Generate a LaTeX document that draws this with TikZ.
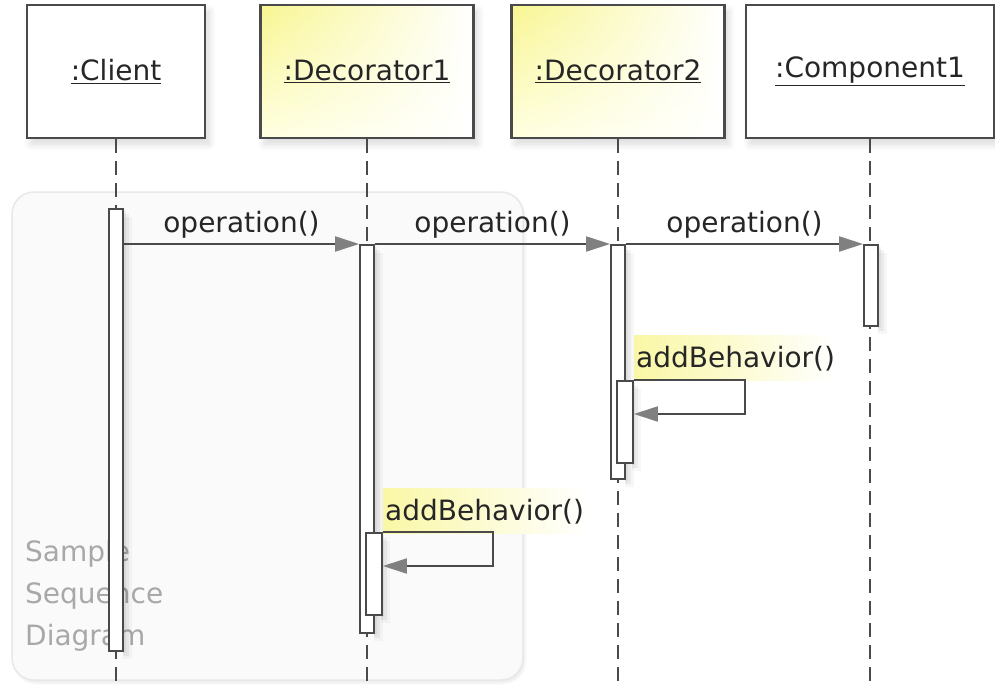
\documentclass[tikz,border=0pt]{standalone}
\usepackage{fontspec}
\setmainfont{DejaVu Sans}
\usetikzlibrary{arrows.meta,shadings,shadows.blur}
\definecolor{ink}{HTML}{4A4A4A}
\definecolor{tipgray}{HTML}{808080}
\definecolor{framegray}{HTML}{E8E8E8}
\definecolor{notegray}{HTML}{A8A8A8}
\definecolor{hlyellow}{HTML}{F7F47E}
\begin{document}
\begin{tikzpicture}[x=1pt,y=-1pt,
  font=\fontsize{28}{42}\selectfont,
  boxshadow/.style={blur shadow={shadow xshift=4pt,shadow yshift=-6pt,shadow opacity=15,shadow blur steps=8,shadow blur radius=7pt}},
  lifebox/.style={draw=ink,line width=2.2pt,minimum height=133pt,inner sep=0pt,text=black!85,boxshadow},
  plainbox/.style={lifebox,fill=white},
  decobox/.style={lifebox,upper left=hlyellow!85,upper right=white,lower left=yellow!12!white,lower right=white},
  lifeline/.style={draw=ink,line width=2pt,dash pattern=on 14pt off 8pt},
  actbar/.style={draw=ink,line width=1.8pt,fill=white,inner sep=0pt,minimum width=14pt,anchor=north},
  msg/.style={draw=ink,line width=2pt,-{Triangle[length=24pt,width=15pt,color=tipgray,fill=tipgray]}},
  msglabel/.style={midway,anchor=base,yshift=12pt,inner sep=0pt,text=black!85},
  hilite/.style={anchor=base west,inner xsep=2pt,inner ysep=10pt,left color=hlyellow!70,right color=white,text=black!85},
]
\useasboundingbox (0,0) rectangle (995,685);

% diagram frame with its caption
\node[draw=framegray,line width=1.5pt,fill=black!2,rounded corners=22pt,
      minimum width=511pt,minimum height=488pt,inner sep=0pt,
      blur shadow={shadow xshift=2pt,shadow yshift=-3pt,shadow opacity=8,shadow blur steps=6}]
  (frame) at (267.5,436) {};
\node[anchor=base west,align=left,text=notegray,inner sep=0pt] (caption) at (25,645)
  {Sample\\Sequence\\Diagram};

% lifeline heads
\node[plainbox,minimum width=178pt] (client) at (116,71.5) {\underline{:Client}};
\node[decobox,minimum width=213pt] (deco1) at (367,71.5) {\underline{:Decorator1}};
\node[decobox,minimum width=213pt] (deco2) at (618,71.5) {\underline{:Decorator2}};
\node[plainbox,minimum width=248pt] (comp1) at (870,71.5) {\underline{:Component1}};

% dashed lifelines
\coordinate (client-end) at (116,685);
\coordinate (deco1-end) at (367,685);
\coordinate (deco2-end) at (618,685);
\coordinate (comp1-end) at (870,685);
\draw[lifeline] (client.south) -- (client-end);
\draw[lifeline] (deco1.south) -- (deco1-end);
\draw[lifeline] (deco2.south) -- (deco2-end);
\draw[lifeline] (comp1.south) -- (comp1-end);

% soft shading to the right of the activation bars
\foreach \x/\t/\h in {116/208/442, 367/244/388, 618/244/234, 871/244/81, 374/532/82, 625/380/82}{
  \foreach \d/\o in {3/0.06, 6/0.05, 9/0.03}
    \fill[black,opacity=\o] (\x+7,\t+\d) rectangle (\x+7+\d,\t+\h+\d);
}

% activation bars
\node[actbar,minimum height=442pt] (cbar) at (116,208) {};
\node[actbar,minimum height=388pt] (d1bar) at (367,244) {};
\node[actbar,minimum height=234pt] (d2bar) at (618,244) {};
\node[actbar,minimum height=81pt] (c1bar) at (871,244) {};
\node[actbar,minimum width=16pt,minimum height=82pt] (d1self) at (374,532) {};
\node[actbar,minimum width=16pt,minimum height=82pt] (d2self) at (625,380) {};

% operation() calls along the chain
\draw[msg] (cbar.east |- d1bar.north) -- (d1bar.north west)
  node[msglabel] (m1) {operation()};
\draw[msg] (d1bar.north east) -- (d2bar.north west)
  node[msglabel] (m2) {operation()};
\draw[msg] (d2bar.north east) -- (c1bar.north west)
  node[msglabel] (m3) {operation()};

% addBehavior() self calls
\node[hilite] (l2) at (d2self.north east |- 0,367) {addBehavior()};
\coordinate (s2a) at (745,380);
\coordinate (s2b) at (745,414);
\draw[msg] (d2self.north east) -- (s2a) -- (s2b) -- (d2self.east |- s2b);

\node[hilite] (l1) at (d1self.north east |- 0,520) {addBehavior()};
\coordinate (s1a) at (493,532);
\coordinate (s1b) at (493,566);
\draw[msg] (d1self.north east) -- (s1a) -- (s1b) -- (d1self.east |- s1b);
\end{tikzpicture}
\end{document}
